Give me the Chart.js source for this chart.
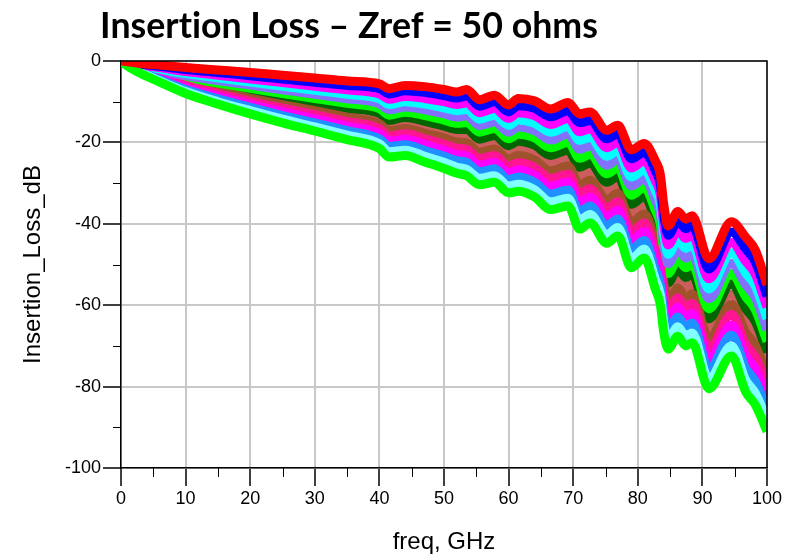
<!DOCTYPE html>
<html>
<head>
<meta charset="utf-8">
<title>Insertion Loss</title>
<script src="https://cdn.jsdelivr.net/npm/chart.js@4"></script>
<style>
  html, body { margin: 0; padding: 0; background: #fff; }
  canvas { display: block; }
</style>
</head>
<body>
<canvas id="myChart" width="785" height="560"></canvas>
<script>
// Frequency points (GHz)
const freq = [0, 1, 3, 6, 10, 15, 20, 25, 30, 35, 40, 41.5, 44, 47, 50, 52, 53.5, 55.5, 57.8, 60,
  61.5, 64, 66.5, 69.2, 71, 72.6, 75.2, 76.9, 79, 81, 82.7, 83.5, 84, 84.7, 86.2, 87.4, 88.4, 91, 94.5, 96.7, 98.2, 100];

// Insertion loss in dB, one array per trace, top trace first
const ilRed = [0, -0.2, -0.6, -1.0, -1.6, -2.2, -2.8, -3.5, -4.2, -4.9, -5.6, -6.8, -6.0, -6.3, -7.0, -7.6, -7.0, -9.5, -8.4, -10.8,
  -9.2, -9.8, -11.8, -10.2, -13.0, -12.5, -17.0, -15.8, -21.8, -20.3, -24.5, -28.0, -35.0, -40.5, -37.0, -38.8, -38.0, -48.6, -39.5, -43.3, -46.5, -55.0];
const ilBlue = [0, -0.3, -0.8, -1.3, -2.1, -2.8, -3.6, -4.4, -5.2, -6.0, -6.8, -8.1, -7.3, -7.7, -8.5, -9.1, -8.6, -11.1, -10.0, -12.5,
  -11.0, -11.6, -13.7, -12.2, -15.2, -14.6, -19.1, -17.9, -24.0, -22.5, -26.9, -30.5, -37.4, -42.8, -39.4, -41.2, -40.4, -51.1, -42.0, -46.2, -49.4, -57.8];
const ilMagenta = [0, -0.4, -1.0, -1.6, -2.6, -3.5, -4.4, -5.3, -6.2, -7.1, -8.1, -9.4, -8.7, -9.2, -10.0, -10.7, -10.3, -12.7, -11.7, -14.1,
  -12.7, -13.4, -15.6, -14.1, -17.4, -16.7, -21.3, -20.0, -26.3, -24.6, -29.4, -32.9, -39.9, -45.2, -41.7, -43.6, -42.8, -53.5, -44.6, -49.2, -52.4, -60.5];
const ilCyan = [0, -0.4, -1.2, -2.0, -3.1, -4.1, -5.2, -6.2, -7.2, -8.2, -9.3, -10.7, -10.0, -10.6, -11.5, -12.2, -11.9, -14.3, -13.3, -15.8,
  -14.5, -15.3, -17.5, -16.1, -19.5, -18.8, -23.4, -22.1, -28.5, -26.8, -31.8, -35.4, -42.3, -47.5, -44.1, -46.0, -45.2, -56.0, -47.1, -52.1, -55.3, -63.3];
const ilSlate = [0, -0.5, -1.3, -2.3, -3.6, -4.8, -5.9, -7.1, -8.2, -9.3, -10.5, -12.0, -11.3, -12.0, -13.0, -13.8, -13.5, -15.9, -15.0, -17.5,
  -16.2, -17.1, -19.4, -18.0, -21.7, -20.9, -25.6, -24.2, -30.7, -29.0, -34.2, -37.9, -44.7, -49.8, -46.4, -48.4, -47.6, -58.4, -49.7, -55.0, -58.2, -66.1];
const ilLime = [0, -0.6, -1.5, -2.6, -4.1, -5.4, -6.7, -8.0, -9.2, -10.4, -11.7, -13.3, -12.6, -13.4, -14.5, -15.3, -15.2, -17.5, -16.6, -19.1,
  -18.0, -18.9, -21.3, -20.0, -23.9, -23.0, -27.7, -26.3, -33.0, -31.1, -36.6, -40.3, -47.1, -52.2, -48.8, -50.8, -50.0, -60.9, -52.2, -57.9, -61.1, -68.9];
const ilDarkGreen = [0, -0.7, -1.7, -2.9, -4.6, -6.1, -7.5, -8.9, -10.2, -11.6, -12.9, -14.6, -13.9, -14.8, -16.0, -16.8, -16.8, -19.2, -18.3, -20.8,
  -19.7, -20.7, -23.2, -21.9, -26.1, -25.1, -29.8, -28.4, -35.2, -33.3, -39.0, -42.8, -49.5, -54.5, -51.1, -53.2, -52.4, -63.3, -54.7, -60.8, -64.0, -71.6];
const ilIndianRed = [0, -0.7, -1.9, -3.3, -5.0, -6.7, -8.3, -9.8, -11.2, -12.7, -14.2, -15.8, -15.3, -16.3, -17.4, -18.4, -18.4, -20.8, -19.9, -22.4,
  -21.5, -22.5, -25.1, -23.9, -28.2, -27.2, -32.0, -30.4, -37.4, -35.4, -41.5, -45.2, -52.0, -56.8, -53.5, -55.6, -54.8, -65.8, -57.3, -63.8, -67.0, -74.4];
const ilSienna = [0, -0.8, -2.1, -3.6, -5.5, -7.4, -9.1, -10.7, -12.2, -13.8, -15.4, -17.1, -16.6, -17.7, -18.9, -19.9, -20.1, -22.4, -21.6, -24.1,
  -23.2, -24.3, -27.0, -25.8, -30.4, -29.3, -34.1, -32.5, -39.7, -37.6, -43.9, -47.7, -54.4, -59.2, -55.8, -58.0, -57.2, -68.2, -59.8, -66.7, -69.9, -77.2];
const ilDeepPink = [0, -0.9, -2.3, -3.9, -6.0, -8.0, -9.9, -11.6, -13.2, -14.9, -16.6, -18.4, -17.9, -19.1, -20.4, -21.4, -21.7, -24.0, -23.2, -25.8,
  -25.0, -26.1, -28.9, -27.8, -32.6, -31.4, -36.2, -34.6, -41.9, -39.8, -46.3, -50.2, -56.8, -61.5, -58.2, -60.4, -59.6, -70.7, -62.3, -69.6, -72.8, -79.9];
const ilFuchsia = [0, -1.0, -2.5, -4.2, -6.5, -8.7, -10.7, -12.5, -14.2, -16.0, -17.8, -19.7, -19.2, -20.5, -21.9, -23.0, -23.3, -25.6, -24.9, -27.4,
  -26.7, -28.0, -30.8, -29.7, -34.8, -33.5, -38.4, -36.7, -44.1, -41.9, -48.7, -52.6, -59.2, -63.8, -60.5, -62.8, -62.0, -73.1, -64.9, -72.5, -75.7, -82.7];
const ilDodger = [0, -1.1, -2.6, -4.6, -7.0, -9.3, -11.4, -13.4, -15.2, -17.1, -19.1, -21.0, -20.6, -22.0, -23.4, -24.5, -24.9, -27.2, -26.5, -29.1,
  -28.5, -29.8, -32.7, -31.7, -37.0, -35.6, -40.5, -38.8, -46.3, -44.1, -51.2, -55.1, -61.7, -66.1, -62.9, -65.2, -64.4, -75.6, -67.4, -75.5, -78.7, -85.5];
const ilPaleCyan = [0, -1.1, -2.8, -4.9, -7.5, -10.0, -12.2, -14.3, -16.2, -18.2, -20.3, -22.3, -21.9, -23.4, -24.9, -26.1, -26.6, -28.8, -28.2, -30.7,
  -30.3, -31.6, -34.6, -33.7, -39.1, -37.7, -42.7, -40.9, -48.6, -46.2, -53.6, -57.5, -64.1, -68.5, -65.3, -67.6, -66.8, -78.1, -70.0, -78.4, -81.6, -88.2];
const ilGreen = [0, -1.2, -3.0, -5.2, -8.0, -10.6, -13.0, -15.2, -17.2, -19.3, -21.5, -23.6, -23.2, -24.8, -26.4, -27.6, -28.2, -30.4, -29.8, -32.4,
  -32.0, -33.4, -36.5, -35.6, -41.3, -39.8, -44.8, -43.0, -50.8, -48.4, -56.0, -60.0, -66.5, -70.8, -67.6, -70.0, -69.2, -80.5, -72.5, -81.3, -84.5, -91.0];

const traces = [ilRed, ilBlue, ilMagenta, ilCyan, ilSlate, ilLime, ilDarkGreen,
  ilIndianRed, ilSienna, ilDeepPink, ilFuchsia, ilDodger, ilPaleCyan, ilGreen];
const traceColors = ['#ff0000', '#0000ff', '#ff00ff', '#00ffff', '#8470ff', '#00ff00', '#006400',
  '#cd5c5c', '#a0522d', '#ff1493', '#ff00ff', '#1e90ff', '#80ffff', '#00ff00'];

// Axis ticks
const xTickValues = [0, 10, 20, 30, 40, 50, 60, 70, 80, 90, 100];
const xMinorTicks = [5, 15, 25, 35, 45, 55, 65, 75, 85, 95];
const yTickValues = [0, -20, -40, -60, -80, -100];
const yMinorTicks = [-10, -30, -50, -70, -90];

const titleText = 'Insertion Loss \u2013 Zref = 50 ohms';
const axisFont = '"Liberation Sans", Arial, sans-serif';

// title drawn at a fixed spot over the plot, like the slide it came from
const titlePlugin = {
    id: 'plotTitle',
    afterDraw(chart) {
        const ctx = chart.ctx;
        ctx.save();
        // tiny spacing keeps the "ti" ligature off
        if ('letterSpacing' in ctx) ctx.letterSpacing = '0.01px';
        let size = 34;
        ctx.font = `bold ${size}px Lato, "Open Sans", sans-serif`;
        size = size * 498 / ctx.measureText(titleText).width;
        ctx.font = `bold ${size.toFixed(1)}px Lato, "Open Sans", sans-serif`;
        ctx.fillStyle = '#000';
        ctx.textAlign = 'center';
        ctx.textBaseline = 'alphabetic';
        ctx.fillText(titleText, 349, 38);
        ctx.restore();
    }
};

// top/right frame and minor tick marks
const framePlugin = {
    id: 'frame',
    afterDraw(chart) {
        const {ctx, chartArea: a, scales: {x, y}} = chart;
        ctx.save();
        ctx.strokeStyle = '#000';
        ctx.lineWidth = 1.5;
        ctx.beginPath();
        ctx.moveTo(a.left, a.top);
        ctx.lineTo(a.right, a.top);
        ctx.lineTo(a.right, a.bottom);
        ctx.stroke();
        ctx.lineWidth = 1;
        ctx.beginPath();
        xMinorTicks.forEach(v => {
            const px = Math.round(x.getPixelForValue(v)) + 0.5;
            ctx.moveTo(px, a.bottom);
            ctx.lineTo(px, a.bottom + 9);
        });
        yMinorTicks.forEach(v => {
            const py = Math.round(y.getPixelForValue(v)) + 0.5;
            ctx.moveTo(a.left - 8, py);
            ctx.lineTo(a.left, py);
        });
        ctx.stroke();
        ctx.restore();
    }
};

const datasets = traces.map((vals, k) => ({
    label: 'trace ' + (k + 1),
    data: vals.map((v, i) => ({x: freq[i], y: v})),
    borderColor: traceColors[k],
    backgroundColor: traceColors[k],
    borderWidth: 9,
    pointRadius: 0,
    fill: false,
    cubicInterpolationMode: 'monotone',
    // outer traces sit on top, like the reference
    order: Math.min(k, traces.length - 1 - k)
}));

const ctx = document.getElementById('myChart').getContext('2d');
const myChart = new Chart(ctx, {
    type: 'line',
    data: { datasets: datasets },
    options: {
        responsive: false,
        animation: false,
        devicePixelRatio: 1,
        layout: { padding: { top: 61, right: 18, bottom: 0, left: 0 } },
        plugins: {
            legend: { display: false },
            tooltip: { enabled: false }
        },
        scales: {
            x: {
                type: 'linear',
                min: 0,
                max: 100,
                afterBuildTicks: s => { s.ticks = xTickValues.map(v => ({value: v})); },
                afterFit: s => { s.height = 92; },
                grid: { color: '#c8c8c8', lineWidth: 2, tickColor: '#000', tickWidth: 1.5, tickLength: 18 },
                border: { color: '#000', width: 1.5 },
                ticks: { color: '#000', font: { family: axisFont, size: 18 }, padding: 2, maxRotation: 0, autoSkip: false },
                title: { display: true, text: 'freq, GHz', color: '#000', font: { family: axisFont, size: 24 }, padding: { top: 0, bottom: 3 } }
            },
            y: {
                type: 'linear',
                min: -100,
                max: 0,
                afterBuildTicks: s => { s.ticks = yTickValues.map(v => ({value: v})); },
                afterFit: s => { s.width = 121; },
                grid: { color: '#c8c8c8', lineWidth: 2, tickColor: '#000', tickWidth: 1.5, tickLength: 18 },
                border: { color: '#000', width: 1.5 },
                ticks: { color: '#000', font: { family: axisFont, size: 18 }, padding: 2 },
                title: { display: true, text: 'Insertion_Loss_dB', color: '#000', font: { family: axisFont, size: 24 }, padding: { top: 19, bottom: 0 } }
            }
        }
    },
    plugins: [titlePlugin, framePlugin]
});
</script>
</body>
</html>
